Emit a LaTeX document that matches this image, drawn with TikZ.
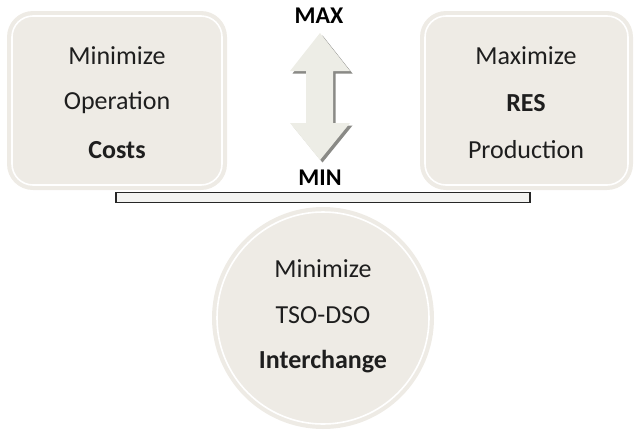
\documentclass[tikz,border=0pt]{standalone}
\usepackage{fontspec}
\setmainfont{Carlito}
\definecolor{beige}{HTML}{EEEBE5}
\definecolor{txt}{HTML}{1E1E1E}
\definecolor{barfill}{HTML}{F3F3F1}
\definecolor{arrowfill}{HTML}{EDEDE6}
\definecolor{shadowc}{HTML}{8A8A86}
\tikzset{
  lbl/.style={text=txt, font=\fontsize{26}{30}\selectfont, inner sep=0pt, anchor=center},
  blbl/.style={lbl, font=\fontsize{26}{30}\selectfont\bfseries},
  mm/.style={text=black, font=\fontsize{24}{28}\selectfont\bfseries, inner sep=0pt, anchor=center},
  panel/.style={fill=beige, draw=none},
  innerline/.style={draw=white, line width=1.6pt},
}
\begin{document}
\begin{tikzpicture}[x=1pt,y=-1pt]
\useasboundingbox (0,0) rectangle (636,429);
% left box
\fill[panel, rounded corners=26pt] (7,11) rectangle (227,190);
\draw[innerline, rounded corners=21pt] (12,16) rectangle (222,185);
\node[lbl]  (l1) at (117,56) {Minimize};
\node[lbl]  (l2) at (117,103) {Operation};
\node[blbl] (l3) at (117,150) {Costs};
% right box
\fill[panel, rounded corners=26pt] (420,11) rectangle (633,190);
\draw[innerline, rounded corners=21pt] (425,16) rectangle (628,185);
\node[lbl]  (r1) at (526,56) {Maximize};
\node[blbl] (r2) at (526,103) {RES};
\node[lbl]  (r3) at (526,150) {Production};
% arrow
\node[mm] (max) at (319,16) {MAX};
\node[mm] (min) at (320,178) {MIN};
\fill[shadowc, shift={(2.5,2.5)}] (320,33) -- (350,71) -- (333,71) -- (333,123) -- (350,123) -- (320,160) -- (290,123) -- (306,123) -- (306,71) -- (290,71) -- cycle;
\fill[arrowfill] (320,33) -- (350,71) -- (333,71) -- (333,123) -- (350,123) -- (320,160) -- (290,123) -- (306,123) -- (306,71) -- (290,71) -- cycle;
% circle
\fill[beige] (323,318) circle[radius=111];
\draw[innerline] (323,318) circle[radius=106];
\node[lbl]  (c1) at (323,269) {Minimize};
\node[lbl]  (c2) at (323,315) {TSO-DSO};
\node[blbl] (c3) at (323,362) {Interchange};
% bar
\node[draw=black!85, line width=1.3pt, fill=barfill, minimum width=414pt, minimum height=10pt, inner sep=0pt] (bar) at (323,197.5) {};
\end{tikzpicture}
\end{document}
